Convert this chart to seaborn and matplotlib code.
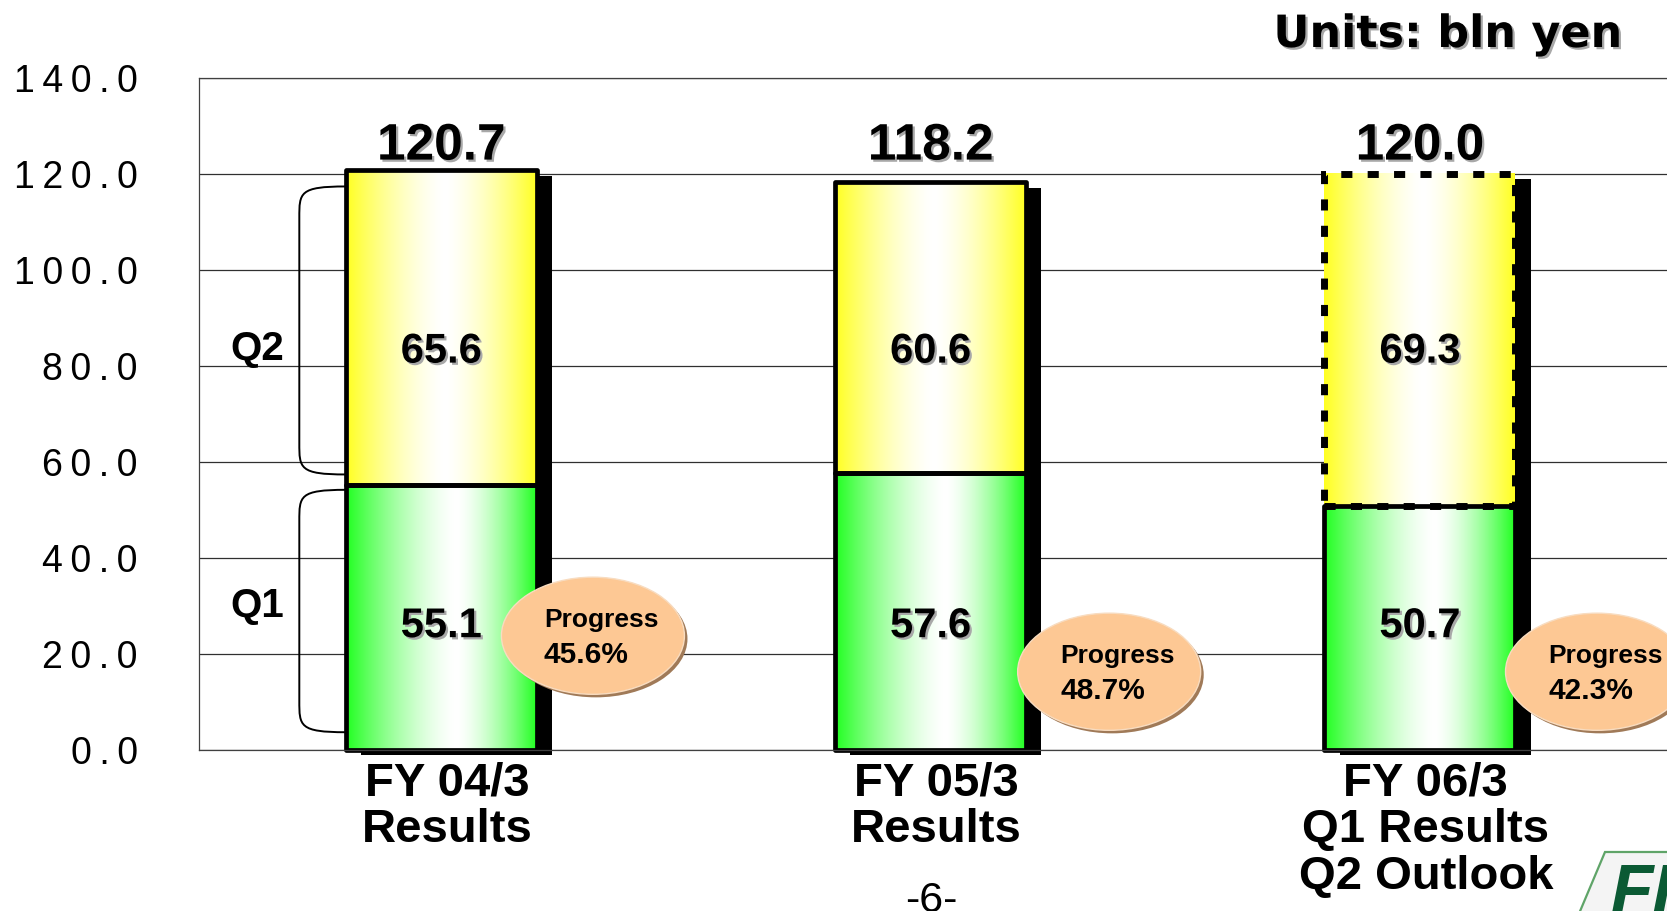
import numpy as np
import matplotlib
matplotlib.use("Agg")
import matplotlib.pyplot as plt
import matplotlib.patheffects as pe
from matplotlib.patches import Ellipse, Rectangle, PathPatch, Polygon
from matplotlib.path import Path
import seaborn as sns

# --- data (bln yen) ---
periods = ["FY 04/3\nResults", "FY 05/3\nResults", "FY 06/3\nQ1 Results\nQ2 Outlook"]
q1_values = [55.1, 57.6, 50.7]
q2_values = [65.6, 60.6, 69.3]
totals = [120.7, 118.2, 120.0]
progress_pct = [45.6, 48.7, 42.3]
q2_is_outlook = [False, False, True]
y_ticks = [0, 20, 40, 60, 80, 100, 120, 140]

# --- layout ---
W, H = 1667, 911
BAR_W = 0.39
BUBBLE_DX = [0.31, 0.365, 0.362]
BUBBLE_Y = [23.7, 16.2, 16.2]
LABEL_DX = 0.012
YELLOW = np.array([1.0, 1.0, 0.13])
GREEN = np.array([0.13, 1.0, 0.13])

sns.set_theme(style="white")
plt.rcParams["font.family"] = ["Liberation Sans", "DejaVu Sans"]
plt.rcParams.update({"text.color": "black", "xtick.color": "black",
                     "ytick.color": "black", "axes.labelcolor": "black"})

SHADOW = [pe.withSimplePatchShadow(offset=(1.6, -1.6), shadow_rgbFace="#a8a8a8", alpha=1.0)]


def gradient(base, center, power=1.5, n=256):
    x = np.linspace(0, 1, n)
    t = np.where(x < center, (center - x) / center, (x - center) / (1 - center))
    t = t ** power
    rgb = (1 - t)[:, None] * np.ones(3) + t[:, None] * base
    return rgb[None, :, :]


fig = plt.figure(figsize=(W / 100, H / 100), dpi=100)
ax = fig.add_axes([199 / W, 1 - 749.5 / H, 1 - 199 / W, (749.5 - 77.5) / H])

# full stack first (Q2 colour), then Q1 on top
sns.barplot(x=periods, y=totals, color=YELLOW, saturation=1, width=BAR_W,
            errorbar=None, ax=ax)
n = len(periods)
total_bars = list(ax.patches[:n])
sns.barplot(x=periods, y=q1_values, color=GREEN, saturation=1, width=BAR_W,
            errorbar=None, ax=ax)
q1_bars = list(ax.patches[n:2 * n])

for p in total_bars:
    p.set_zorder(1)
    p.set_linewidth(0)
    p.set_clip_on(False)
    p.set_path_effects([pe.withSimplePatchShadow(offset=(11, -4), shadow_rgbFace="black", alpha=1.0)])
for p in q1_bars:
    p.set_zorder(1.1)
    p.set_linewidth(0)

grad_y = gradient(YELLOW, 0.52)
grad_g = gradient(GREEN, 0.58)
for i, (pt, pq) in enumerate(zip(total_bars, q1_bars)):
    x0, w = pt.get_x(), pt.get_width()
    ax.imshow(grad_y, extent=[x0, x0 + w, q1_values[i], totals[i]], aspect="auto",
              interpolation="bilinear", zorder=1.2)
    ax.imshow(grad_g, extent=[x0, x0 + w, 0, q1_values[i]], aspect="auto",
              interpolation="bilinear", zorder=1.3)
    if q2_is_outlook[i]:
        ax.add_patch(Rectangle((x0, q1_values[i]), w, q2_values[i], fill=False, ec="black",
                               lw=5, ls=(0, (1.6, 2.2)), capstyle="butt", zorder=2,
                               clip_on=False))
    else:
        ax.add_patch(Rectangle((x0, q1_values[i]), w, q2_values[i], fill=False, ec="black",
                               lw=3.4, joinstyle="round", zorder=2, clip_on=False))
    ax.add_patch(Rectangle((x0, 0), w, q1_values[i], fill=False, ec="black",
                           lw=3.4, joinstyle="round", zorder=2.1, clip_on=False))

    xc = x0 + w / 2
    ax.text(xc, 122.9, f"{totals[i]:.1f}", ha="center", va="baseline", fontsize=37,
            fontweight="bold", path_effects=SHADOW, zorder=5)
    ax.text(xc, 80.6, f"{q2_values[i]:.1f}", ha="center", va="baseline", fontsize=30,
            fontweight="bold", path_effects=SHADOW, zorder=5)
    ax.text(xc, 23.4, f"{q1_values[i]:.1f}", ha="center", va="baseline", fontsize=30,
            fontweight="bold", path_effects=SHADOW, zorder=5)

    # progress bubble
    bx, by = xc + BUBBLE_DX[i], BUBBLE_Y[i]
    ax.add_patch(Ellipse((bx, by), 0.374, 24.4, fc="#fdc894", ec="#f8dcc0", lw=1,
                         zorder=6, clip_on=False,
                         path_effects=[pe.withSimplePatchShadow(offset=(2.2, -2.2),
                                                                shadow_rgbFace="#a07a58", alpha=1.0)]))
    ax.text(bx - 0.1, by + 1.8, "Progress", ha="left", va="baseline", fontsize=19,
            fontweight="bold", zorder=7, clip_on=False)
    ax.text(bx - 0.1, by - 5.7, f"{progress_pct[i]:.1f}%", ha="left", va="baseline",
            fontsize=21.5, fontweight="bold", zorder=7, clip_on=False)

# brackets for Q1 / Q2 on the first bar
bar_left = total_bars[0].get_x()
brace_x = bar_left - 0.095
for top, bot in [(totals[0] - 3.4, q1_values[0] + 2.2), (q1_values[0] - 1.0, 3.6)]:
    r = 6.5
    verts = [(bar_left, top), (brace_x, top), (brace_x, top - 0.2 * r), (brace_x, top - r),
             (brace_x, bot + r), (brace_x, bot + 0.2 * r), (brace_x, bot), (bar_left, bot)]
    codes = [Path.MOVETO, Path.CURVE4, Path.CURVE4, Path.CURVE4,
             Path.LINETO, Path.CURVE4, Path.CURVE4, Path.CURVE4]
    ax.add_patch(PathPatch(Path(verts, codes), fill=False, ec="black", lw=1.4,
                           zorder=3, clip_on=False))
ax.text(-0.376, 81.1, "Q2", ha="center", va="baseline", fontsize=29, fontweight="bold")
ax.text(-0.376, 27.7, "Q1", ha="center", va="baseline", fontsize=29, fontweight="bold")

# axes styling
ax.set_xlim(-0.495, 2.505)
ax.set_ylim(0, 140)
ax.set_yticks(y_ticks)
ax.set_yticklabels(["\u2009".join(f"{v:.1f}") for v in y_ticks], fontsize=27)
ax.set_xticks([i + LABEL_DX for i in range(n)])
ax.set_xticklabels(periods, fontsize=34, fontweight="bold", linespacing=1.07)
ax.tick_params(axis="y", length=0, pad=44)
ax.tick_params(axis="x", length=0, pad=9)
ax.set_xlabel("")
ax.set_ylabel("")
ax.set_axisbelow(True)
ax.yaxis.grid(True, color="#303030", lw=0.9)
ax.xaxis.grid(False)
for side in ["left", "top", "bottom"]:
    ax.spines[side].set_visible(True)
    ax.spines[side].set_color("#404040")
    ax.spines[side].set_linewidth(0.9)
ax.spines["right"].set_visible(False)

# figure-level text
fig.text(1623 / W, 1 - 47 / H, "Units: bln yen", ha="right", va="baseline", fontsize=32,
         fontweight="bold", family=["DejaVu Sans"], path_effects=SHADOW)
fig.text(931 / W, 1 - 912 / H, "-6-", ha="center", va="baseline", fontsize=31)

# corner logo (clipped by the page edge)
logo = Polygon([(1570 / W, 1 - 935 / H), (1605 / W, 1 - 852 / H), (1720 / W, 1 - 852 / H),
                (1720 / W, 1 - 935 / H)], closed=True, transform=fig.transFigure,
               fc="#f4f4f4", ec="#5fa468", lw=1.6)
fig.patches.append(logo)
fig.text(1611 / W, 1 - 862 / H, "FI", ha="left", va="top", fontsize=50, fontweight="bold",
         fontstyle="italic", color="#0b5a34")

fig.savefig("out.png", dpi=100)
